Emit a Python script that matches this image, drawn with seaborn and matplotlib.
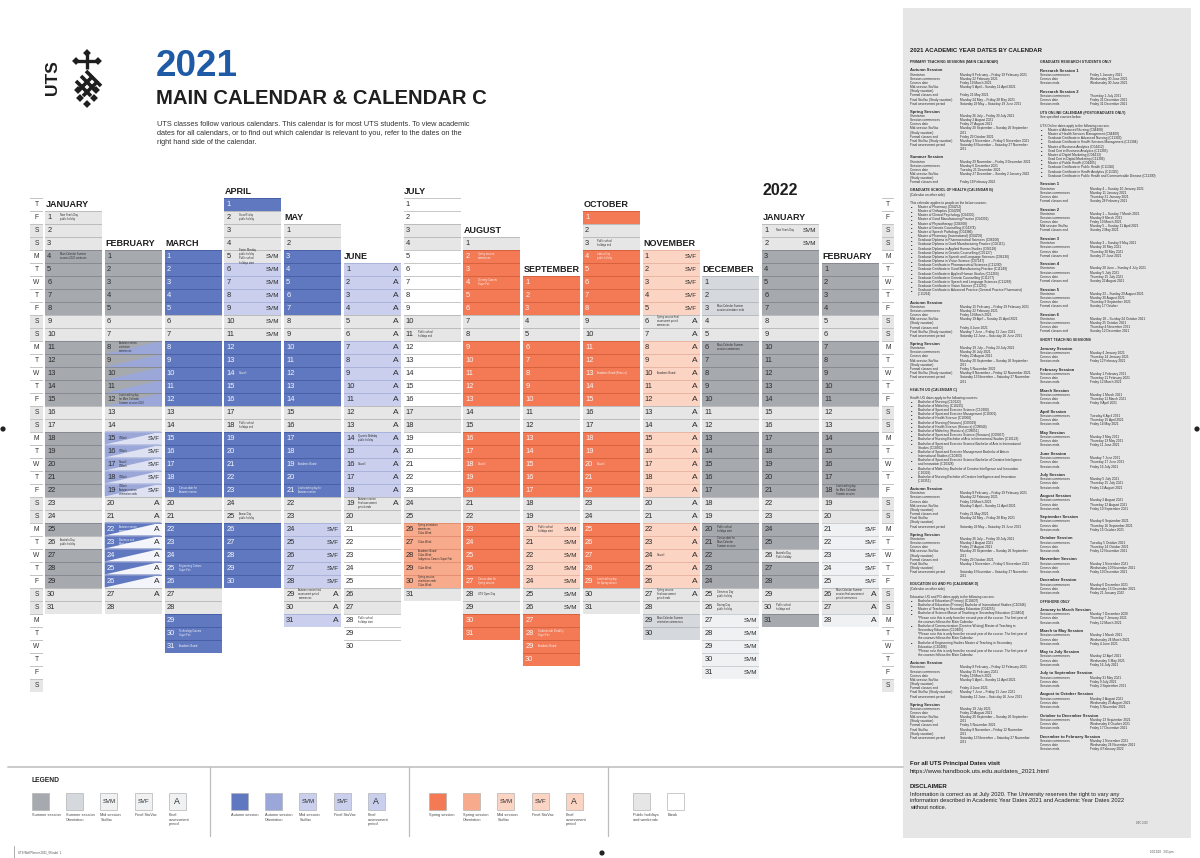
import datetime as dt
import matplotlib
matplotlib.use("Agg")
import matplotlib.pyplot as plt
import seaborn as sns
import pandas as pd

sns.set_theme(style="white")
plt.rcParams['font.family'] = ['Liberation Sans', 'DejaVu Sans']

# ---------------------------------------------------------------- data
MONTH_NAMES = ["JANUARY", "FEBRUARY", "MARCH", "APRIL", "MAY", "JUNE", "JULY",
               "AUGUST", "SEPTEMBER", "OCTOBER", "NOVEMBER", "DECEMBER",
               "JANUARY", "FEBRUARY"]
MONTH_YEARS = [2021] * 12 + [2022] * 2
MONTH_NUMS = list(range(1, 13)) + [1, 2]

# one code per day: G summer session, g summer orientation, w weekend/holiday,
# b break, B autumn session, l autumn stuvac/assessment, R spring session,
# r spring orientation, p spring stuvac/assessment, v summer stuvac/assessment,
# x/y/z overlapping (split) days
DAY_CODES = [
    "wwwGGGGGwwGGGGGwwGGGGGwwGwGGGww",
    "GGGGGwwxxxxxwwyyyyywwzzzzzww",
    "BBBBBwwBBBBBwwBBBBBwwBBBBBwwBBB",
    "BwwwwllllwwBBBBBwwBBBBBwwBBBBB",
    "wwBBBBBwwBBBBBwwBBBBBwwlllllwwl",
    "llllwwlllllwwlllllwwbbbbbwwbbb",
    "bbwwbbbbbwwbbbbbwwbbbbbwwrrrrrw",
    "wRRRRRwwRRRRRwwRRRRRwwRRRRRwwRR",
    "RRRwwRRRRRwwRRRRRwwpppppwwRRRR",
    "RwwRRRRRwwRRRRRwwRRRRRwwRRRRRww",
    "pppppwwpppppwwpppppwwpppppwwgg",
    "gggwwGGGGGwwGGGGGwwGGGGGwwvvvvv",
    "wwGGGGGwwGGGGGwwGGGGGwwGGwGGwwG",
    "GGGGwwGGGGGwwGGGGGwwvvvvvwwv",
]

TAG_RANGES = [
    [],
    [(15, 19, "SVF"), (20, 27, "A")],
    [],
    [(5, 11, "SVM")],
    [(24, 28, "SVF"), (29, 31, "A")],
    [(1, 19, "A")],
    [],
    [],
    [(20, 26, "SVM")],
    [],
    [(1, 5, "SVF"), (6, 27, "A")],
    [(27, 31, "SVM")],
    [(1, 2, "SVM")],
    [(21, 25, "SVF"), (26, 28, "A")],
]

NOTES = [
    {1: "New Year's Day\npublic holiday", 4: "Main Calendar Summer\nsession 2020 continues",
     26: "Australia Day\npublic holiday"},
    {8: "Autumn session\norientation\ncommences", 12: "Last teaching day\nfor Main Calendar\nSummer session 2020",
     15: "O'Week", 16: "O'Week", 17: "Council\nO'Week", 18: "O'Week",
     19: "O'Week\nAutumn session\norientation ends", 22: "Autumn session\ncommences",
     23: "Business and\nMarketing Fair"},
    {19: "Census date for\nAutumn session", 25: "Engineering Careers\nSuper Fair",
     30: "Technology Careers\nSuper Fair", 31: "Academic Board"},
    {2: "Good Friday\npublic holiday", 5: "Easter Monday\npublic holiday\nPublic school\nholidays start",
     14: "Council", 18: "Public school\nholidays end", 25: "Anzac Day\npublic holiday"},
    {19: "Academic Board", 21: "Last teaching day for\nAutumn session",
     29: "Autumn session final\nassessment period\ncommences"},
    {14: "Queen's Birthday\npublic holiday", 16: "Council",
     19: "Autumn session\nfinal assessment\nperiod ends", 28: "Public school\nholidays start"},
    {11: "Public school\nholidays end", 26: "Spring orientation\ncommences\nClubs Week",
     27: "Clubs Week", 28: "Academic Board\nClubs Week\nIndigenous Careers Super Fair",
     29: "Clubs Week", 30: "Spring session\norientation ends\nClubs Week"},
    {2: "Spring session\ncommences", 4: "Diversity Careers\nSuper Fair", 18: "Council",
     27: "Census date for\nSpring session", 28: "UTS Open Day"},
    {20: "Public school\nholidays start", 28: "Students with Disability\nSuper Fair",
     29: "Academic Board"},
    {3: "Public school\nholidays end", 4: "Labour Day\npublic holiday",
     13: "Academic Board (Reserve)", 20: "Council", 29: "Last teaching day\nfor Spring session"},
    {6: "Spring session final\nassessment period\ncommences", 10: "Academic Board", 24: "Council",
     27: "Spring session\nfinal assessment\nperiod ends", 29: "Main Calendar Summer\norientation commences"},
    {3: "Main Calendar Summer\nsession orientation ends", 6: "Main Calendar Summer\nsession commences",
     20: "Public school\nholidays start", 21: "Census date for\nMain Calendar\nSummer session",
     25: "Christmas Day\npublic holiday", 26: "Boxing Day\npublic holiday"},
    {1: "New Year's Day", 26: "Australia Day\nPublic holiday", 30: "Public school\nholidays end"},
    {18: "Last teaching day\nfor Main Calendar\nSummer session",
     26: "Main Calendar Summer\nsession final assessment\nperiod commences"},
]

WEEKDAY_LETTERS = list("TFSSMTW")
N_ROWS = 38

LEGEND_GROUPS = [
    [("G", "", "Summer session"), ("g", "", "Summer session\nOrientation"),
     ("v", "SVM", "Mid session\nStuVac"), ("v", "SVF", "Final StuVac"),
     ("v", "A", "Final\nassessment\nperiod")],
    [("B", "", "Autumn session"), ("o", "", "Autumn session\nOrientation"),
     ("l", "SVM", "Mid session\nStuVac"), ("l", "SVF", "Final StuVac"),
     ("l", "A", "Final\nassessment\nperiod")],
    [("R", "", "Spring session"), ("r", "", "Spring session\nOrientation"),
     ("p", "SVM", "Mid session\nStuVac"), ("p", "SVF", "Final StuVac"),
     ("p", "A", "Final\nassessment\nperiod")],
    [("w", "", "Public holidays\nand weekends"), ("b", "", "Break")],
]

LEFT_PANEL = """
#PRIMARY TEACHING SESSIONS (MAIN CALENDAR)
~
##Autumn Session
Orientation|Monday 8 February – Friday 19 February 2021
Session commences|Monday 22 February 2021
Census date|Friday 19 March 2021
Mid-session StuVac|Monday 5 April – Sunday 11 April 2021
(Study vacation)|
Formal classes end|Friday 21 May 2021
Final StuVac (Study vacation)|Monday 24 May – Friday 28 May 2021
Final assessment period|Saturday 29 May – Saturday 19 June 2021
~
##Spring Session
Orientation|Monday 26 July – Friday 30 July 2021
Session commences|Monday 2 August 2021
Census date|Friday 27 August 2021
Mid-session StuVac|Monday 20 September – Sunday 26 September
(Study vacation)|2021
Formal classes end|Friday 29 October 2021
Final StuVac (Study vacation)|Monday 1 November – Friday 5 November 2021
Final assessment period|Saturday 6 November – Saturday 27 November
|2021
~
##Summer Session
Orientation|Monday 29 November – Friday 3 December 2021
Session commences|Monday 6 December 2021
Census date|Tuesday 21 December 2021
Mid-session StuVac|Monday 27 December – Sunday 2 January 2022
(Study vacation)|
Formal classes end|Friday 18 February 2022
~
#GRADUATE SCHOOL OF HEALTH (CALENDAR B)
(Calendar on other side)
~
This calendar applies to people on the below courses:
* Master of Pharmacy (C04252)
* Master of Orthoptics (C04299)
* Master of Clinical Psychology (C04300)
* Master of Good Manufacturing Practice (C04301)
* Master of Physiotherapy (C04308)
* Master of Genetic Counselling (C04374)
* Master of Speech Pathology (C04386)
* Master of Pharmacy (International) (C04250)
* Graduate Diploma in Pharmaceutical Sciences (C06100)
* Graduate Diploma in Good Manufacturing Practice (C06115)
* Graduate Diploma in Applied Human Studies (C06118)
* Graduate Diploma in Genetic Counselling (C06127)
* Graduate Diploma in Speech and Language Sciences (C06130)
* Graduate Diploma in Vision Science (C07147)
* Graduate Certificate in Pharmaceutical Sciences (C11230)
* Graduate Certificate in Good Manufacturing Practice (C11249)
* Graduate Certificate in Applied Human Studies (C11260)
* Graduate Certificate in Genetic Counselling (C11277)
* Graduate Certificate in Speech and Language Sciences (C11283)
* Graduate Certificate in Vision Science (C11290)
* Graduate Certificate in Advanced Practice (General Practice Pharmacist)
> (C11294)
~
##Autumn Session
Orientation|Monday 15 February – Friday 19 February 2021
Session commences|Monday 22 February 2021
Census date|Friday 19 March 2021
Mid-session StuVac|Monday 19 April – Sunday 25 April 2021
(Study vacation)|
Formal classes end|Friday 4 June 2021
Final StuVac (Study vacation)|Monday 7 June – Friday 11 June 2021
Final assessment period|Saturday 12 June – Saturday 26 June 2021
~
##Spring Session
Orientation|Monday 19 July – Friday 23 July 2021
Session commences|Monday 26 July 2021
Census date|Friday 20 August 2021
Mid-session StuVac|Monday 20 September – Sunday 26 September
(Study vacation)|2021
Formal classes end|Friday 5 November 2021
Final StuVac (Study vacation)|Monday 8 November – Friday 12 November 2021
Final assessment period|Saturday 13 November – Saturday 27 November
|2021
~
#HEALTH UG (CALENDAR C)
~
Health UG dates apply to the following courses:
* Bachelor of Nursing (C10122)
* Bachelor of Midwifery (C10225)
* Bachelor of Sport and Exercise Science (C10300)
* Bachelor of Sport and Exercise Management (C10301)
* Bachelor of Health Science (C10360)
* Bachelor of Nursing (Honours) (C09019)
* Bachelor of Health Science (Honours) (C09049)
* Bachelor of Midwifery (Honours) (C09051)
* Bachelor of Sport and Exercise Science (Honours) (C09057)
* Bachelor of Nursing Bachelor of Arts in International Studies (C10123)
* Bachelor of Sport and Exercise Science Bachelor of Arts in International
> Studies (C10302)
* Bachelor of Sport and Exercise Management Bachelor of Arts in
> International Studies (C10303)
* Bachelor of Sport and Exercise Science Bachelor of Creative Intelligence
> and Innovation (C10328)
* Bachelor of Midwifery Bachelor of Creative Intelligence and Innovation
> (C10329)
* Bachelor of Nursing Bachelor of Creative Intelligence and Innovation
> (C10351)
~
##Autumn Session
Orientation|Monday 8 February – Friday 19 February 2021
Session commences|Monday 22 February 2021
Census date|Friday 19 March 2021
Mid-session StuVac|Monday 5 April – Sunday 11 April 2021
(Study vacation)|
Formal classes end|Friday 21 May 2021
Final StuVac|Monday 24 May – Friday 28 May 2021
(Study vacation)|
Final assessment period|Saturday 29 May – Saturday 19 June 2021
~
##Spring Session
Orientation|Monday 26 July – Friday 30 July 2021
Session commences|Monday 2 August 2021
Census date|Friday 27 August 2021
Mid-session StuVac|Monday 20 September – Sunday 26 September
(Study vacation)|2021
Formal classes end|Friday 29 October 2021
Final StuVac|Monday 1 November – Friday 5 November 2021
(Study vacation)|
Final assessment period|Saturday 6 November – Saturday 27 November
|2021
~
#EDUCATION UG AND PG (CALENDAR D)
(Calendar on other side)
~
Education UG and PG dates apply to the following courses:
* Bachelor of Education (Primary) (C10407)
* Bachelor of Education (Primary) Bachelor of International Studies (C10346)
* Master of Teaching in Secondary Education (C04255)
* Bachelor of Science Master of Teaching in Secondary Education (C10404)
> *Please note this is only from the second year of the course. The first year of
> the courses follows the Main Calendar
* Bachelor of Communication (Creative Writing) Master of Teaching in
> Secondary Education (C10405)
> *Please note this is only from the second year of the course. The first year of
> the courses follows the Main Calendar
* Bachelor of Engineering Studies Master of Teaching in Secondary
> Education (C10406)
> *Please note this is only from the second year of the course. The first year of
> the courses follows the Main Calendar
~
##Autumn Session
Orientation|Monday 8 February – Friday 12 February 2021
Session commences|Monday 15 February 2021
Census date|Friday 19 March 2021
Mid-session StuVac|Monday 5 April – Sunday 11 April 2021
(Study vacation)|
Formal classes end|Friday 4 June 2021
Final StuVac (Study vacation)|Monday 7 June – Friday 11 June 2021
Final assessment period|Saturday 12 June – Saturday 26 June 2021
~
##Spring Session
Session commences|Monday 19 July 2021
Census date|Friday 20 August 2021
Mid-session StuVac|Monday 20 September – Sunday 26 September
(Study vacation)|2021
Formal classes end|Friday 5 November 2021
Final StuVac|Monday 8 November – Friday 12 November
(Study vacation)|2021
Final assessment period|Saturday 13 November – Saturday 27 November
|2021
"""

RIGHT_PANEL = """
#GRADUATE RESEARCH STUDENTS ONLY
~
##Research Session 1
Session commences|Friday 1 January 2021
Census date|Wednesday 30 June 2021
Session ends|Wednesday 30 June 2021
~
##Research Session 2
Session commences|Thursday 1 July 2021
Census date|Friday 31 December 2021
Session ends|Friday 31 December 2021
~
#UTS ONLINE CALENDAR (POSTGRADUATE ONLY)
See specified courses below.
~
UTS Online dates apply to the following courses:
* Master of Advanced Nursing (C04408)
* Master of Health Services Management (C04409)
* Graduate Certificate in Advanced Nursing (C11303)
* Graduate Certificate in Health Services Management (C11304)
* Master of Business Analytics (C04412)
* Grad Cert in Business Analytics (C11305)
* Master of Digital Marketing (C04413)
* Grad Cert in Digital Marketing (C11306)
* Master of Public Health (C04405)
* Graduate Certificate in Public Health (C11326)
* Graduate Certificate in Health Analytics (C11325)
* Graduate Certificate in Public Health and Communicable Disease (C11330)
~
##Session 1
Orientation|Monday 4 – Sunday 10 January 2021
Session commences|Monday 11 January 2021
Census date|Thursday 21 January 2021
Formal classes end|Sunday 28 February 2021
~
##Session 2
Orientation|Monday 1 – Sunday 7 March 2021
Session commences|Monday 8 March 2021
Census date|Friday 19 March 2021
Mid session StuVac|Monday 5 – Sunday 11 April 2021
Formal classes end|Sunday 2 May 2021
~
##Session 3
Orientation|Monday 3 – Sunday 9 May 2021
Session commences|Monday 10 May 2021
Census date|Thursday 20 May 2021
Formal classes end|Sunday 27 June 2021
~
##Session 4
Orientation|Monday 28 June – Sunday 4 July 2021
Session commences|Monday 5 July 2021
Census date|Thursday 15 July 2021
Formal classes end|Sunday 22 August 2021
~
##Session 5
Orientation|Monday 23 – Sunday 29 August 2021
Session commences|Monday 30 August 2021
Census date|Thursday 9 September 2021
Formal classes end|Sunday 17 October
~
##Session 6
Orientation|Monday 18 – Sunday 24 October 2021
Session commences|Monday 25 October 2021
Census date|Thursday 4 November 2021
Formal classes end|Sunday 12 December 2021
~
#SHORT TEACHING SESSIONS
~
##January Session
Session commences|Monday 4 January 2021
Census date|Thursday 14 January 2021
Session ends|Friday 12 February 2021
~
##February Session
Session commences|Monday 1 February 2021
Census date|Thursday 11 February 2021
Session ends|Friday 12 March 2021
~
##March Session
Session commences|Monday 1 March 2021
Census date|Thursday 11 March 2021
Session ends|Friday 9 April 2021
~
##April Session
Session commences|Tuesday 6 April 2021
Census date|Thursday 15 April 2021
Session ends|Friday 14 May 2021
~
##May Session
Session commences|Monday 3 May 2021
Census date|Thursday 13 May 2021
Session ends|Friday 11 June 2021
~
##June Session
Session commences|Monday 7 June 2021
Census date|Thursday 17 June 2021
Session ends|Friday 16 July 2021
~
##July Session
Session commences|Monday 5 July 2021
Census date|Thursday 15 July 2021
Session ends|Friday 13 August 2021
~
##August Session
Session commences|Monday 2 August 2021
Census date|Thursday 12 August 2021
Session ends|Friday 10 September 2021
~
##September Session
Session commences|Monday 6 September 2021
Census date|Thursday 16 September 2021
Session ends|Friday 15 October 2021
~
##October Session
Session commences|Tuesday 5 October 2021
Census date|Thursday 14 October 2021
Session ends|Friday 12 November 2021
~
##November Session
Session commences|Monday 1 November 2021
Census date|Wednesday 10 November 2021
Session ends|Friday 10 December 2021
~
##December Session
Session commences|Monday 6 December 2021
Census date|Wednesday 15 December 2021
Session ends|Friday 21 January 2022
~
#OFFSHORE ONLY
~
##January to March Session
Session commences|Monday 7 December 2020
Census date|Thursday 7 January 2021
Session ends|Friday 12 March 2021
~
##March to May Session
Session commences|Monday 1 March 2021
Census date|Wednesday 24 March 2021
Session ends|Friday 4 June 2021
~
##May to July Session
Session commences|Monday 12 April 2021
Census date|Wednesday 5 May 2021
Session ends|Friday 16 July 2021
~
##July to September Session
Session commences|Monday 31 May 2021
Census date|Friday 9 July 2021
Session ends|Friday 3 September 2021
~
##August to October Session
Session commences|Monday 2 August 2021
Census date|Wednesday 25 August 2021
Session ends|Friday 5 November 2021
~
##October to December Session
Session commences|Monday 13 September 2021
Census date|Wednesday 6 October 2021
Session ends|Friday 17 December 2021
~
##December to February Session
Session commences|Monday 1 November 2021
Census date|Wednesday 24 November 2021
Session ends|Friday 4 February 2022
"""

# ---------------------------------------------------------------- style
FILL = {'G': '#a6aaaf', 'g': '#d5d8dc', 'w': '#e6e6e6', 'b': '#ffffff', 'B': '#5f78bf',
        'o': '#9aa7d8', 'l': '#c9cfec', 'R': '#f37a55', 'r': '#f8aa8c', 'p': '#fcd4c3',
        'v': '#f0f1f2', 'x': '#a6aaaf', 'y': '#dde1f2', 'z': '#f4f5fa'}
EDGE = {'G': '#878b91', 'g': '#b7bbc0', 'w': '#bcbcbc', 'b': '#c8c8c8', 'B': '#4a60a6',
        'o': '#8190c6', 'l': '#aab3da', 'R': '#d8623e', 'r': '#e38f70', 'p': '#e8b6a3',
        'v': '#cdd0d3', 'x': '#878b91', 'y': '#aab3da', 'z': '#8190c6'}
SPLIT = {'x': ('#9aa7d8', 'lr'), 'y': ('#9aa7d8', 'ul'), 'z': ('#5f78bf', 'ul')}
LIGHT_TEXT = set('BRz')
DARK = '#2b2b2b'

COL0, COL_PITCH, CELL_W = 45.0, 59.75, 57.0
ROW0, ROW_H = 204.0, 13.0


def row_y(r):
    return ROW0 + ROW_H * r


fig = plt.figure(figsize=(12, 8.58), dpi=100)
ax = fig.add_axes([0, 0, 1, 1])

# ---------------------------------------------------------------- build cell table
recs = []
for m, codes in enumerate(DAY_CODES):
    first = dt.date(MONTH_YEARS[m], MONTH_NUMS[m], 1)
    offset = (first.weekday() - 3) % 7
    tags = {}
    for s, e, lab in TAG_RANGES[m]:
        for d in range(s, e + 1):
            tags[d] = lab
    for i, c in enumerate(codes):
        d = i + 1
        recs.append(dict(month=m, day=d, code=c, row=offset + i,
                         tag=tags.get(d, ""), note=NOTES[m].get(d, "")))
cells = pd.DataFrame(recs)
cells["x0"] = COL0 + COL_PITCH * cells["month"]
cells["top"] = row_y(cells["row"]) - ROW_H / 2
cells["fill"] = cells["code"].map(FILL)
cells["edge"] = cells["code"].map(EDGE)

ax.bar(cells["x0"], ROW_H, width=CELL_W, bottom=cells["top"], align='edge',
       color=cells["fill"], linewidth=0, zorder=1)

for _, c in cells[cells["code"].isin(list(SPLIT))].iterrows():
    col, kind = SPLIT[c["code"]]
    x0, x1, t, b = c["x0"], c["x0"] + CELL_W, c["top"], c["top"] + ROW_H
    if kind == 'lr':
        ax.fill([x0, x1, x1], [b, b, t], color=col, lw=0, zorder=1.5)
    else:
        ax.fill([x0, x1, x0], [t, t, b], color=col, lw=0, zorder=1.5)

ax.bar(cells["x0"], 1.2, width=CELL_W, bottom=cells["top"], align='edge',
       color=cells["edge"], linewidth=0, zorder=2)

for _, c in cells.iterrows():
    yc = row_y(c["row"]) + 0.3
    tc = '#f7f7fa' if c["code"] in LIGHT_TEXT else DARK
    ax.text(c["x0"] + 2.2, yc, str(c["day"]), fontsize=5.4, color=tc,
            va='center', ha='left', zorder=3)
    if c["tag"]:
        ax.text(c["x0"] + CELL_W - 2.3, yc, c["tag"],
                fontsize=6.0 if c["tag"] == "A" else 4.5, color=DARK,
                va='center', ha='right', zorder=3)
    if c["note"]:
        ax.text(c["x0"] + 14.5, yc, c["note"], fontsize=1.85, color=tc,
                va='center', ha='left', linespacing=1.05, zorder=3)

# month headers
for m in range(len(DAY_CODES)):
    first = dt.date(MONTH_YEARS[m], MONTH_NUMS[m], 1)
    offset = (first.weekday() - 3) % 7
    ax.text(COL0 + COL_PITCH * m + 0.5, row_y(offset - 1) + 0.8, MONTH_NAMES[m],
            fontsize=6.5, fontweight='bold', color='#1e1e1e', va='center', ha='left')
ax.text(COL0 + COL_PITCH * 12 + 0.5, row_y(-1) - 0.5, "2022", fontsize=11.5,
        fontweight='bold', color='#1e1e1e', va='center', ha='left')

# weekday columns
rows = list(range(N_ROWS))
letters = [WEEKDAY_LETTERS[r % 7] for r in rows]
for xl, wcol in [(30.0, 13.0), (882.0, 12.0)]:
    tops = [row_y(r) - ROW_H / 2 for r in rows]
    fills = ['#e6e6e6' if l == 'S' else '#ffffff' for l in letters]
    ax.bar([xl] * N_ROWS, ROW_H, width=wcol, bottom=tops, align='edge',
           color=fills, linewidth=0)
    ax.bar([xl] * N_ROWS, 1.0, width=wcol, bottom=tops, align='edge',
           color='#c4c4c4', linewidth=0)
    for r, l in zip(rows, letters):
        ax.text(xl + wcol / 2, row_y(r) + 0.3, l, fontsize=4.8, color='#333333',
                ha='center', va='center')

# ---------------------------------------------------------------- title block
ax.text(156, 67, "2021", fontsize=26.5, fontweight='bold', color='#1f5aa6', va='center')
ax.text(156, 99, "MAIN CALENDAR & CALENDAR C", fontsize=14.6, fontweight='bold',
        color='#1e1e1e', va='center')
sub = ("UTS classes follow various calendars. This calendar is for most UTS students. To view academic\n"
       "dates for all calendars, or to find out which calendar is relevant to you, refer to the dates on the\n"
       "right hand side of the calendar.")
ax.text(157, 133.3, sub, fontsize=5.3, color='#333333', va='center', linespacing=1.38)

# logo
ax.text(52.5, 78, "UTS", rotation=90, fontsize=12.5, fontweight='bold', color='#1e1e1e',
        ha='center', va='center')
logo = pd.DataFrame({
    "x": [87, 76, 98, 78, 96, 80, 87, 94],
    "y": [53, 61, 61, 90, 90, 98, 104, 98],
})
sns.scatterplot(data=logo, x="x", y="y", marker='D', s=16, color='#1e1e1e',
                edgecolor='none', ax=ax, legend=False, zorder=5)
ax.plot([77, 97], [61, 61], color='#1e1e1e', lw=2.4, solid_capstyle='butt')
ax.plot([87, 87], [54, 69], color='#1e1e1e', lw=2.4, solid_capstyle='butt')
for s0 in [(76, 76), (81, 71), (86, 66)]:
    ax.plot([s0[0], s0[0] + 15], [s0[1] + 5, s0[1] + 20], color='#1e1e1e', lw=2.6,
            solid_capstyle='butt')
for s0 in [(98, 76), (93, 71)]:
    ax.plot([s0[0], s0[0] - 15], [s0[1] + 5, s0[1] + 20], color='#1e1e1e', lw=2.6,
            solid_capstyle='butt')

# ---------------------------------------------------------------- legend
ax.plot([8, 903], [767, 767], color='#c6c6c6', lw=1.3)
for xd in [210, 409, 608]:
    ax.plot([xd, xd], [767, 836], color='#bdbdbd', lw=0.9)
ax.text(32, 781, "LEGEND", fontsize=4.8, fontweight='bold', color='#222222', va='center')
group_x = [32, 231, 429, 633]
for gx, grp in zip(group_x, LEGEND_GROUPS):
    xs = [gx + 34.2 * k for k in range(len(grp))]
    ax.bar(xs, 17, width=17, bottom=793, align='edge',
           color=[FILL[g[0]] for g in grp], edgecolor='#b3b3b3', linewidth=0.5)
    for xk, (code, tag, lab) in zip(xs, grp):
        if tag:
            ax.text(xk + 8.5, 801.8, tag, fontsize=6.3 if tag == "A" else 4.3,
                    color=DARK, ha='center', va='center')
        ax.text(xk, 813, lab, fontsize=2.8, color='#444444', va='top', ha='left',
                linespacing=1.25)

# ---------------------------------------------------------------- right panel
ax.bar([903], 830, width=288, bottom=8, align='edge', color='#e6e6e6', linewidth=0, zorder=0)
ax.text(910, 50.7, "2021 ACADEMIC YEAR DATES BY CALENDAR", fontsize=4.3,
        fontweight='bold', color='#1e1e1e', va='center')


def draw_panel(text, xl, xv, y, gap, pitch=4.17):
    for raw in text.strip('\n').split('\n'):
        if raw.startswith('~'):
            y += gap
            continue
        kw = dict(va='center', ha='left', color='#2a2a2a')
        if raw.startswith('##'):
            ax.text(xl, y, raw[2:], fontsize=2.95, fontweight='bold', **kw)
        elif raw.startswith('#'):
            ax.text(xl, y, raw[1:], fontsize=2.55, fontweight='bold', **kw)
        elif raw.startswith('* '):
            ax.text(xl + 1.2, y, '■', fontsize=1.6, **kw)
            ax.text(xl + 8, y, raw[2:], fontsize=2.38, **kw)
        elif raw.startswith('> '):
            ax.text(xl + 8, y, raw[2:], fontsize=2.38, **kw)
        elif '|' in raw:
            a, b = raw.split('|')
            ax.text(xl, y, a, fontsize=2.38, **kw)
            ax.text(xv, y, b, fontsize=2.38, **kw)
        else:
            ax.text(xl, y, raw, fontsize=2.38, **kw)
        y += pitch


draw_panel(LEFT_PANEL, 910, 960, 62.3, 3.9)
draw_panel(RIGHT_PANEL, 1040, 1090, 62.3, 4.4)

ax.text(910, 764, "For all UTS Principal Dates visit", fontsize=4.3, fontweight='bold',
        color='#1e1e1e', va='center')
ax.text(910, 771.5, "https://www.handbook.uts.edu.au/dates_2021.html", fontsize=4.5,
        color='#1e1e1e', va='center')
ax.text(910, 786, "DISCLAIMER", fontsize=4.4, fontweight='bold', color='#1e1e1e', va='center')
ax.text(910, 801, "Information is correct as at July 2020. The University reserves the right to vary any\n"
                  "information described in Academic Year Dates 2021 and Academic Year Dates 2022\n"
                  "without notice.", fontsize=4.15, color='#1e1e1e', va='center', linespacing=1.3)
ax.text(1136, 823, "DEC 2020", fontsize=1.8, color='#555555', va='center')

# ---------------------------------------------------------------- print marks
ax.plot([14, 14], [846, 858], color='#888888', lw=0.5)
ax.text(18, 852.5, "UTS Wall Planner 2021_V8.indd   1", fontsize=2.0, color='#444444', va='center')
ax.text(1150, 852.5, "10/12/20   3:01 pm", fontsize=2.0, color='#444444', va='center')
marks = pd.DataFrame({"x": [3, 1197, 602], "y": [429, 429, 853]})
sns.scatterplot(data=marks, x="x", y="y", marker='o', s=14, color='#222222',
                edgecolor='none', ax=ax, legend=False)

ax.set_xlim(0, 1200)
ax.set_ylim(858, 0)
ax.set_xlabel("")
ax.set_ylabel("")
ax.axis('off')

fig.savefig("out.png", dpi=100)
